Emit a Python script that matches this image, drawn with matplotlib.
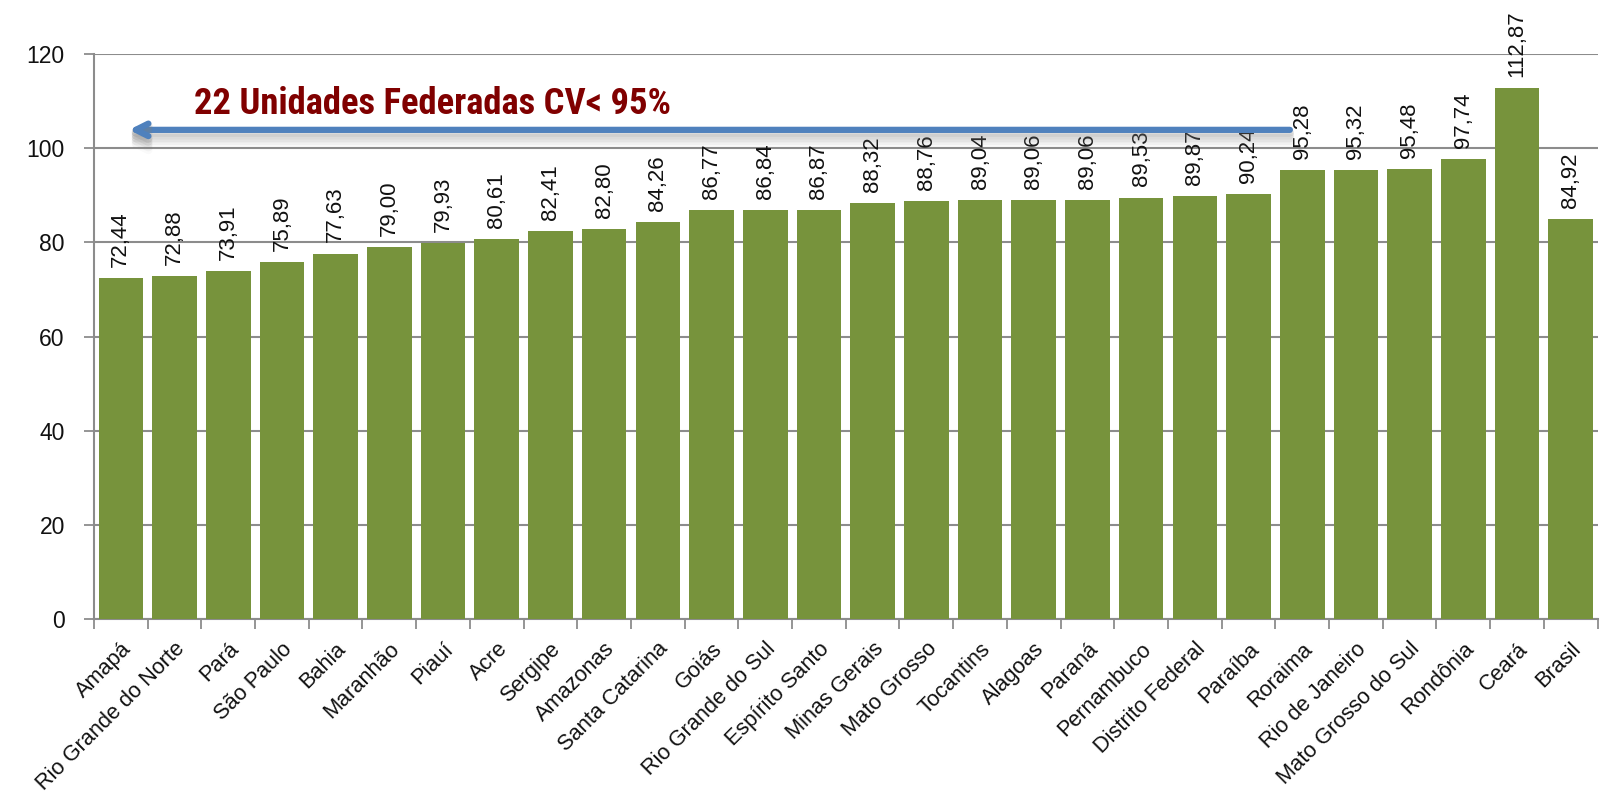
import matplotlib
matplotlib.use("Agg")
import matplotlib.pyplot as plt
import matplotlib.patheffects as pe
from matplotlib import font_manager
import numpy as np

categories = ["Amapá", "Rio Grande do Norte", "Pará", "São Paulo", "Bahia", "Maranhão",
              "Piauí", "Acre", "Sergipe", "Amazonas", "Santa Catarina", "Goiás",
              "Rio Grande do Sul", "Espírito Santo", "Minas Gerais", "Mato Grosso",
              "Tocantins", "Alagoas", "Paraná", "Pernambuco", "Distrito Federal",
              "Paraíba", "Roraima", "Rio de Janeiro", "Mato Grosso do Sul", "Rondônia",
              "Ceará", "Brasil"]
values = [72.44, 72.88, 73.91, 75.89, 77.63, 79.00, 79.93, 80.61, 82.41, 82.80, 84.26,
          86.77, 86.84, 86.87, 88.32, 88.76, 89.04, 89.06, 89.06, 89.53, 89.87, 90.24,
          95.28, 95.32, 95.48, 97.74, 112.87, 84.92]
value_labels = ["72,44", "72,88", "73,91", "75,89", "77,63", "79,00", "79,93", "80,61",
                "82,41", "82,80", "84,26", "86,77", "86,84", "86,87", "88,32", "88,76",
                "89,04", "89,06", "89,06", "89,53", "89,87", "90,24", "95,28", "95,32",
                "95,48", "97,74", "112,87", "84,92"]
yticks = [0, 20, 40, 60, 80, 100, 120]
annotation_text = "22 Unidades Federadas CV< 95%"

plt.rcParams['font.family'] = ['Liberation Sans', 'DejaVu Sans']

fig = plt.figure(figsize=(16.04, 7.95), dpi=100)
ax = fig.add_axes([0.0586, 0.2214, 0.9374, 0.7106])

x = np.arange(len(categories))
ax.bar(x, values, width=0.83, color="#77933C", zorder=3)

for xi, v, lab in zip(x, values, value_labels):
    ax.annotate(lab, (xi, v), xytext=(0, 8), textcoords="offset points",
                rotation=90, ha="center", va="bottom", fontsize=16, color="#111111",
                zorder=4, annotation_clip=False)

ax.set_xlim(-0.5, len(categories) - 0.5)
ax.set_ylim(0, 120)
ax.set_yticks(yticks)
ax.set_yticklabels([str(t) for t in yticks], fontsize=16.5, color="#111111")
ax.yaxis.grid(True, color="#8c8c8c", linewidth=1.5, zorder=0)
ax.set_axisbelow(True)

ax.set_xticks(x)
ax.set_xticklabels(categories, rotation=45, ha="right", rotation_mode="anchor",
                   fontsize=15.7, color="#111111")
ax.tick_params(axis="x", which="major", length=0, pad=14)
ax.set_xticks(np.arange(-0.5, len(categories) + 0.5, 1), minor=True)
ax.tick_params(axis="x", which="minor", length=7, width=1.3, color="#8c8c8c")
ax.tick_params(axis="y", length=7, width=1.3, color="#8c8c8c", pad=14)

for s in ["top", "right"]:
    ax.spines[s].set_visible(False)
for s in ["left", "bottom"]:
    ax.spines[s].set_color("#8c8c8c")
    ax.spines[s].set_linewidth(1.5)

# arrow with soft shadow
shadow = [pe.SimpleLineShadow(offset=(0, -d), shadow_color="#808080", alpha=a, linewidth=6)
          for d, a in [(2, 0.18), (4, 0.14), (6, 0.10), (8, 0.07), (10, 0.04)]]
ax.annotate("", xy=(0.15, 103.9), xytext=(21.77, 103.9),
            arrowprops=dict(arrowstyle="->,head_length=0.9,head_width=0.45",
                            color="#4F81BD", lw=4.5, shrinkA=0, shrinkB=0,
                            path_effects=shadow + [pe.Normal()]),
            zorder=6)

# condensed bold font for the annotation, if installed
names = {f.name for f in font_manager.fontManager.ttflist}
cands = ["Liberation Sans Narrow", "Arial Narrow", "Roboto Condensed", "Noto Sans Condensed",
         "Open Sans Condensed", "DejaVu Sans Condensed"]
fam = next((c for c in cands if c in names), None)
if fam is None:
    fam_list = ["Noto Sans", "Liberation Sans", "DejaVu Sans"]
    stretch = "condensed"
else:
    fam_list = [fam, "Liberation Sans", "DejaVu Sans"]
    stretch = "normal"
t = ax.text(5.8, 109.4, annotation_text, ha="center", va="center", fontsize=25,
            fontweight="bold", color="#800000", family=fam_list, fontstretch=stretch,
            zorder=6)
fig.canvas.draw()
w = t.get_window_extent(fig.canvas.get_renderer()).width
t.set_fontsize(25 * 478.0 / w)

fig.savefig("out.png", dpi=100)
